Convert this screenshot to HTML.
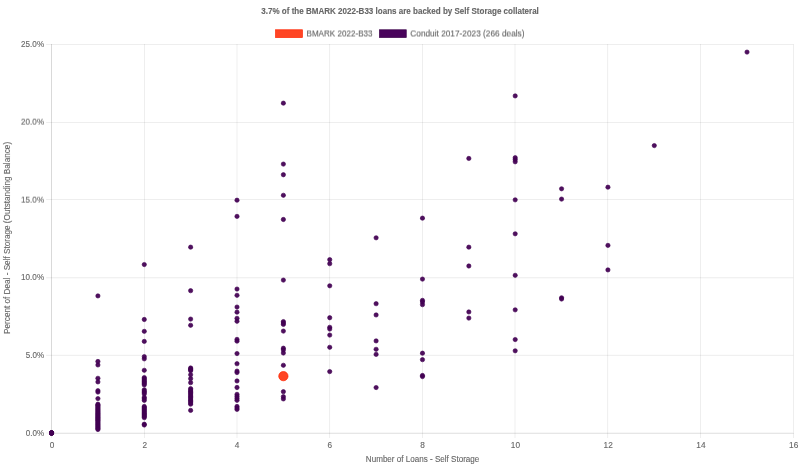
<!DOCTYPE html>
<html><head><meta charset="utf-8"><title>Self Storage collateral</title>
<style>html,body{margin:0;padding:0;background:#fff;}body{width:800px;height:467px;overflow:hidden;font-family:"Liberation Sans",sans-serif;}svg{display:block;will-change:transform}text{font-family:"Liberation Sans",sans-serif;fill:#666666;stroke:#666666;stroke-width:0.12px;paint-order:stroke fill}</style>
</head><body>
<svg width="800" height="467" viewBox="0 0 800 467">
<rect width="800" height="467" fill="#ffffff"/>
<defs><filter id="hs" x="-5%" y="-40%" width="110%" height="180%" color-interpolation-filters="sRGB"><feOffset in="SourceGraphic" dy="-1" result="u"/><feComposite in="SourceGraphic" in2="u" operator="arithmetic" k1="0" k2="0.5" k3="0.5" k4="0"/></filter><filter id="hs3" x="-5%" y="-40%" width="110%" height="180%" color-interpolation-filters="sRGB"><feOffset in="SourceGraphic" dy="-1" result="u"/><feComposite in="SourceGraphic" in2="u" operator="arithmetic" k1="0" k2="0.67" k3="0.33" k4="0"/></filter></defs>
<g fill="rgba(0,0,0,0.1)">
<rect x="51.334" y="44.000" width="0.667" height="394.003"/>
<rect x="143.997" y="44.000" width="0.667" height="394.003"/>
<rect x="236.667" y="44.000" width="0.667" height="394.003"/>
<rect x="329.387" y="44.000" width="0.667" height="394.003"/>
<rect x="422.117" y="44.000" width="0.667" height="394.003"/>
<rect x="514.667" y="44.000" width="0.667" height="394.003"/>
<rect x="607.417" y="44.000" width="0.667" height="394.003"/>
<rect x="700.067" y="44.000" width="0.667" height="394.003"/>
<rect x="793.267" y="44.000" width="0.667" height="394.003"/>
<rect x="46.133" y="432.667" width="747.137" height="0.667"/>
<rect x="46.133" y="354.850" width="747.137" height="0.750"/>
<rect x="46.133" y="277.450" width="747.137" height="0.750"/>
<rect x="46.133" y="199.333" width="747.137" height="0.667"/>
<rect x="46.133" y="122.000" width="747.137" height="0.667"/>
<rect x="46.133" y="44.000" width="747.137" height="0.667"/>
<rect x="51.333" y="44.000" width="0.667" height="389.333" fill="rgba(0,0,0,0.13)"/>
<rect x="51.333" y="433.000" width="742.667" height="0.667"/>
</g>
<text x="400.1" y="14.4" font-size="8.6" font-weight="bold" text-anchor="middle" textLength="277.5" lengthAdjust="spacingAndGlyphs">3.7% of the BMARK 2022-B33 loans are backed by Self Storage collateral</text>
<rect x="275.6" y="29.78" width="26.8" height="7.75" fill="#ff4524" stroke="#ff2400" stroke-width="0.7"/>
<rect x="379.45" y="29.78" width="26.8" height="7.75" fill="#49035b" stroke="#3b0049" stroke-width="0.7"/>
<g filter="url(#hs)">
<text x="306.5" y="36.6" font-size="8.6" textLength="66" lengthAdjust="spacingAndGlyphs">BMARK 2022-B33</text>
<text x="410.3" y="36.6" font-size="8.6" textLength="114.2" lengthAdjust="spacingAndGlyphs">Conduit 2017-2023 (266 deals)</text>
</g>
<text x="52.07" y="447.9" font-size="8.6" text-anchor="middle" textLength="4.6" lengthAdjust="spacingAndGlyphs">0</text>
<text x="144.82" y="447.9" font-size="8.6" text-anchor="middle" textLength="4.6" lengthAdjust="spacingAndGlyphs">2</text>
<text x="237.17" y="447.9" font-size="8.6" text-anchor="middle" textLength="4.6" lengthAdjust="spacingAndGlyphs">4</text>
<text x="329.92" y="447.9" font-size="8.6" text-anchor="middle" textLength="4.6" lengthAdjust="spacingAndGlyphs">6</text>
<text x="422.67" y="447.9" font-size="8.6" text-anchor="middle" textLength="4.6" lengthAdjust="spacingAndGlyphs">8</text>
<text x="515.42" y="447.9" font-size="8.6" text-anchor="middle" textLength="9.2" lengthAdjust="spacingAndGlyphs">10</text>
<text x="608.17" y="447.9" font-size="8.6" text-anchor="middle" textLength="9.2" lengthAdjust="spacingAndGlyphs">12</text>
<text x="700.92" y="447.9" font-size="8.6" text-anchor="middle" textLength="9.2" lengthAdjust="spacingAndGlyphs">14</text>
<text x="793.67" y="447.9" font-size="8.6" text-anchor="middle" textLength="9.2" lengthAdjust="spacingAndGlyphs">16</text>
<text x="44.1" y="436" font-size="8.6" text-anchor="end" textLength="18.4" lengthAdjust="spacingAndGlyphs">0.0%</text>
<text x="44.1" y="358" font-size="8.6" text-anchor="end" textLength="18.4" lengthAdjust="spacingAndGlyphs">5.0%</text>
<text x="44.1" y="280" font-size="8.6" text-anchor="end" textLength="23.0" lengthAdjust="spacingAndGlyphs">10.0%</text>
<g filter="url(#hs3)"><text x="44.1" y="203" font-size="8.6" text-anchor="end" textLength="23.0" lengthAdjust="spacingAndGlyphs">15.0%</text></g>
<g filter="url(#hs3)"><text x="44.1" y="125" font-size="8.6" text-anchor="end" textLength="23.0" lengthAdjust="spacingAndGlyphs">20.0%</text></g>
<text x="44.1" y="47" font-size="8.6" text-anchor="end" textLength="23.0" lengthAdjust="spacingAndGlyphs">25.0%</text>
<text x="422.6" y="461.8" font-size="8.6" text-anchor="middle" textLength="113.5" lengthAdjust="spacingAndGlyphs">Number of Loans - Self Storage</text>
<text transform="translate(9.8,237.9) rotate(-90)" font-size="8.6" text-anchor="middle" textLength="192" lengthAdjust="spacingAndGlyphs">Percent of Deal - Self Storage (Outstanding Balance)</text>
<g fill="#440154" fill-opacity="0.94" stroke="#400050" stroke-width="0.6">
<circle cx="51.55" cy="433.00" r="2.15"/>
<circle cx="51.55" cy="433.00" r="2.15"/>
<circle cx="51.55" cy="433.00" r="2.15"/>
<circle cx="51.55" cy="433.00" r="2.15"/>
<circle cx="51.55" cy="433.00" r="2.15"/>
<circle cx="51.55" cy="433.00" r="2.15"/>
<circle cx="51.55" cy="433.00" r="2.15"/>
<circle cx="51.55" cy="433.00" r="2.15"/>
<circle cx="51.55" cy="433.00" r="2.15"/>
<circle cx="51.55" cy="433.00" r="2.15"/>
<circle cx="97.91" cy="295.90" r="2.15"/>
<circle cx="97.91" cy="361.50" r="2.15"/>
<circle cx="97.91" cy="364.95" r="2.15"/>
<circle cx="97.91" cy="378.30" r="2.15"/>
<circle cx="97.91" cy="381.90" r="2.15"/>
<circle cx="97.91" cy="390.70" r="2.15"/>
<circle cx="97.91" cy="392.10" r="2.15"/>
<circle cx="97.91" cy="398.60" r="2.15"/>
<circle cx="97.91" cy="404.20" r="2.15"/>
<circle cx="97.91" cy="405.14" r="2.15"/>
<circle cx="97.91" cy="406.07" r="2.15"/>
<circle cx="97.91" cy="407.01" r="2.15"/>
<circle cx="97.91" cy="407.95" r="2.15"/>
<circle cx="97.91" cy="408.89" r="2.15"/>
<circle cx="97.91" cy="409.82" r="2.15"/>
<circle cx="97.91" cy="410.76" r="2.15"/>
<circle cx="97.91" cy="411.70" r="2.15"/>
<circle cx="97.91" cy="412.63" r="2.15"/>
<circle cx="97.91" cy="413.57" r="2.15"/>
<circle cx="97.91" cy="414.51" r="2.15"/>
<circle cx="97.91" cy="415.44" r="2.15"/>
<circle cx="97.91" cy="416.38" r="2.15"/>
<circle cx="97.91" cy="417.32" r="2.15"/>
<circle cx="97.91" cy="418.26" r="2.15"/>
<circle cx="97.91" cy="419.19" r="2.15"/>
<circle cx="97.91" cy="420.13" r="2.15"/>
<circle cx="97.91" cy="421.07" r="2.15"/>
<circle cx="97.91" cy="422.00" r="2.15"/>
<circle cx="97.91" cy="422.94" r="2.15"/>
<circle cx="97.91" cy="423.88" r="2.15"/>
<circle cx="97.91" cy="424.81" r="2.15"/>
<circle cx="97.91" cy="425.75" r="2.15"/>
<circle cx="97.91" cy="426.69" r="2.15"/>
<circle cx="97.91" cy="427.63" r="2.15"/>
<circle cx="97.91" cy="428.56" r="2.15"/>
<circle cx="97.91" cy="429.50" r="2.15"/>
<circle cx="144.28" cy="264.55" r="2.15"/>
<circle cx="144.28" cy="319.50" r="2.15"/>
<circle cx="144.28" cy="331.35" r="2.15"/>
<circle cx="144.28" cy="341.40" r="2.15"/>
<circle cx="144.28" cy="356.65" r="2.15"/>
<circle cx="144.28" cy="358.85" r="2.15"/>
<circle cx="144.28" cy="370.30" r="2.15"/>
<circle cx="144.28" cy="377.55" r="2.15"/>
<circle cx="144.28" cy="378.77" r="2.15"/>
<circle cx="144.28" cy="380.00" r="2.15"/>
<circle cx="144.28" cy="381.23" r="2.15"/>
<circle cx="144.28" cy="382.45" r="2.15"/>
<circle cx="144.28" cy="383.67" r="2.15"/>
<circle cx="144.28" cy="384.90" r="2.15"/>
<circle cx="144.28" cy="389.80" r="2.15"/>
<circle cx="144.28" cy="391.20" r="2.15"/>
<circle cx="144.28" cy="392.60" r="2.15"/>
<circle cx="144.28" cy="394.00" r="2.15"/>
<circle cx="144.28" cy="397.30" r="2.15"/>
<circle cx="144.28" cy="398.80" r="2.15"/>
<circle cx="144.28" cy="400.40" r="2.15"/>
<circle cx="144.28" cy="406.50" r="2.15"/>
<circle cx="144.28" cy="407.62" r="2.15"/>
<circle cx="144.28" cy="408.74" r="2.15"/>
<circle cx="144.28" cy="409.86" r="2.15"/>
<circle cx="144.28" cy="410.98" r="2.15"/>
<circle cx="144.28" cy="412.10" r="2.15"/>
<circle cx="144.28" cy="413.22" r="2.15"/>
<circle cx="144.28" cy="414.34" r="2.15"/>
<circle cx="144.28" cy="415.46" r="2.15"/>
<circle cx="144.28" cy="416.58" r="2.15"/>
<circle cx="144.28" cy="417.70" r="2.15"/>
<circle cx="144.28" cy="424.20" r="2.15"/>
<circle cx="144.28" cy="425.00" r="2.15"/>
<circle cx="190.64" cy="247.15" r="2.15"/>
<circle cx="190.64" cy="290.70" r="2.15"/>
<circle cx="190.64" cy="319.10" r="2.15"/>
<circle cx="190.64" cy="325.30" r="2.15"/>
<circle cx="190.64" cy="368.00" r="2.15"/>
<circle cx="190.64" cy="368.90" r="2.15"/>
<circle cx="190.64" cy="369.80" r="2.15"/>
<circle cx="190.64" cy="370.80" r="2.15"/>
<circle cx="190.64" cy="374.80" r="2.15"/>
<circle cx="190.64" cy="378.70" r="2.15"/>
<circle cx="190.64" cy="382.70" r="2.15"/>
<circle cx="190.64" cy="388.60" r="2.15"/>
<circle cx="190.64" cy="389.90" r="2.15"/>
<circle cx="190.64" cy="391.20" r="2.15"/>
<circle cx="190.64" cy="392.50" r="2.15"/>
<circle cx="190.64" cy="393.80" r="2.15"/>
<circle cx="190.64" cy="395.10" r="2.15"/>
<circle cx="190.64" cy="396.40" r="2.15"/>
<circle cx="190.64" cy="397.70" r="2.15"/>
<circle cx="190.64" cy="399.00" r="2.15"/>
<circle cx="190.64" cy="400.30" r="2.15"/>
<circle cx="190.64" cy="401.60" r="2.15"/>
<circle cx="190.64" cy="402.90" r="2.15"/>
<circle cx="190.64" cy="404.20" r="2.15"/>
<circle cx="190.64" cy="410.40" r="2.15"/>
<circle cx="237.01" cy="200.20" r="2.15"/>
<circle cx="237.01" cy="216.40" r="2.15"/>
<circle cx="237.01" cy="289.05" r="2.15"/>
<circle cx="237.01" cy="295.35" r="2.15"/>
<circle cx="237.01" cy="307.05" r="2.15"/>
<circle cx="237.01" cy="312.15" r="2.15"/>
<circle cx="237.01" cy="318.35" r="2.15"/>
<circle cx="237.01" cy="321.25" r="2.15"/>
<circle cx="237.01" cy="339.40" r="2.15"/>
<circle cx="237.01" cy="341.15" r="2.15"/>
<circle cx="237.01" cy="353.55" r="2.15"/>
<circle cx="237.01" cy="363.70" r="2.15"/>
<circle cx="237.01" cy="371.10" r="2.15"/>
<circle cx="237.01" cy="372.55" r="2.15"/>
<circle cx="237.01" cy="380.95" r="2.15"/>
<circle cx="237.01" cy="387.50" r="2.15"/>
<circle cx="237.01" cy="394.40" r="2.15"/>
<circle cx="237.01" cy="396.40" r="2.15"/>
<circle cx="237.01" cy="398.40" r="2.15"/>
<circle cx="237.01" cy="400.35" r="2.15"/>
<circle cx="237.01" cy="406.50" r="2.15"/>
<circle cx="237.01" cy="408.00" r="2.15"/>
<circle cx="237.01" cy="409.40" r="2.15"/>
<circle cx="283.38" cy="103.15" r="2.15"/>
<circle cx="283.38" cy="164.10" r="2.15"/>
<circle cx="283.38" cy="174.75" r="2.15"/>
<circle cx="283.38" cy="195.30" r="2.15"/>
<circle cx="283.38" cy="219.50" r="2.15"/>
<circle cx="283.38" cy="280.10" r="2.15"/>
<circle cx="283.38" cy="321.60" r="2.15"/>
<circle cx="283.38" cy="323.00" r="2.15"/>
<circle cx="283.38" cy="324.40" r="2.15"/>
<circle cx="283.38" cy="331.10" r="2.15"/>
<circle cx="283.38" cy="348.20" r="2.15"/>
<circle cx="283.38" cy="349.90" r="2.15"/>
<circle cx="283.38" cy="353.00" r="2.15"/>
<circle cx="283.38" cy="365.30" r="2.15"/>
<circle cx="283.38" cy="391.70" r="2.15"/>
<circle cx="283.38" cy="396.70" r="2.15"/>
<circle cx="283.38" cy="398.90" r="2.15"/>
<circle cx="329.74" cy="259.65" r="2.15"/>
<circle cx="329.74" cy="263.70" r="2.15"/>
<circle cx="329.74" cy="285.80" r="2.15"/>
<circle cx="329.74" cy="317.75" r="2.15"/>
<circle cx="329.74" cy="327.30" r="2.15"/>
<circle cx="329.74" cy="329.05" r="2.15"/>
<circle cx="329.74" cy="335.10" r="2.15"/>
<circle cx="329.74" cy="347.30" r="2.15"/>
<circle cx="329.74" cy="371.60" r="2.15"/>
<circle cx="376.11" cy="237.80" r="2.15"/>
<circle cx="376.11" cy="303.70" r="2.15"/>
<circle cx="376.11" cy="314.95" r="2.15"/>
<circle cx="376.11" cy="340.90" r="2.15"/>
<circle cx="376.11" cy="349.30" r="2.15"/>
<circle cx="376.11" cy="354.40" r="2.15"/>
<circle cx="376.11" cy="387.55" r="2.15"/>
<circle cx="422.47" cy="218.15" r="2.15"/>
<circle cx="422.47" cy="279.10" r="2.15"/>
<circle cx="422.47" cy="300.40" r="2.15"/>
<circle cx="422.47" cy="302.00" r="2.15"/>
<circle cx="422.47" cy="304.65" r="2.15"/>
<circle cx="422.47" cy="353.20" r="2.15"/>
<circle cx="422.47" cy="359.65" r="2.15"/>
<circle cx="422.47" cy="375.50" r="2.15"/>
<circle cx="422.47" cy="376.60" r="2.15"/>
<circle cx="468.84" cy="158.45" r="2.15"/>
<circle cx="468.84" cy="247.15" r="2.15"/>
<circle cx="468.84" cy="266.00" r="2.15"/>
<circle cx="468.84" cy="311.95" r="2.15"/>
<circle cx="468.84" cy="318.10" r="2.15"/>
<circle cx="515.20" cy="95.90" r="2.15"/>
<circle cx="515.20" cy="157.70" r="2.15"/>
<circle cx="515.20" cy="159.60" r="2.15"/>
<circle cx="515.20" cy="161.80" r="2.15"/>
<circle cx="515.20" cy="199.85" r="2.15"/>
<circle cx="515.20" cy="233.80" r="2.15"/>
<circle cx="515.20" cy="275.35" r="2.15"/>
<circle cx="515.20" cy="309.85" r="2.15"/>
<circle cx="515.20" cy="339.55" r="2.15"/>
<circle cx="515.20" cy="350.80" r="2.15"/>
<circle cx="561.57" cy="188.80" r="2.15"/>
<circle cx="561.57" cy="199.10" r="2.15"/>
<circle cx="561.57" cy="297.80" r="2.15"/>
<circle cx="561.57" cy="299.00" r="2.15"/>
<circle cx="607.93" cy="187.20" r="2.15"/>
<circle cx="607.93" cy="245.40" r="2.15"/>
<circle cx="607.93" cy="269.90" r="2.15"/>
<circle cx="654.29" cy="145.60" r="2.15"/>
<circle cx="747.02" cy="52.10" r="2.15"/>
</g>
<circle cx="283.38" cy="376.15" r="4.65" fill="#ff4524" stroke="#ff2400" stroke-width="0.67"/>
</svg>
</body></html>
